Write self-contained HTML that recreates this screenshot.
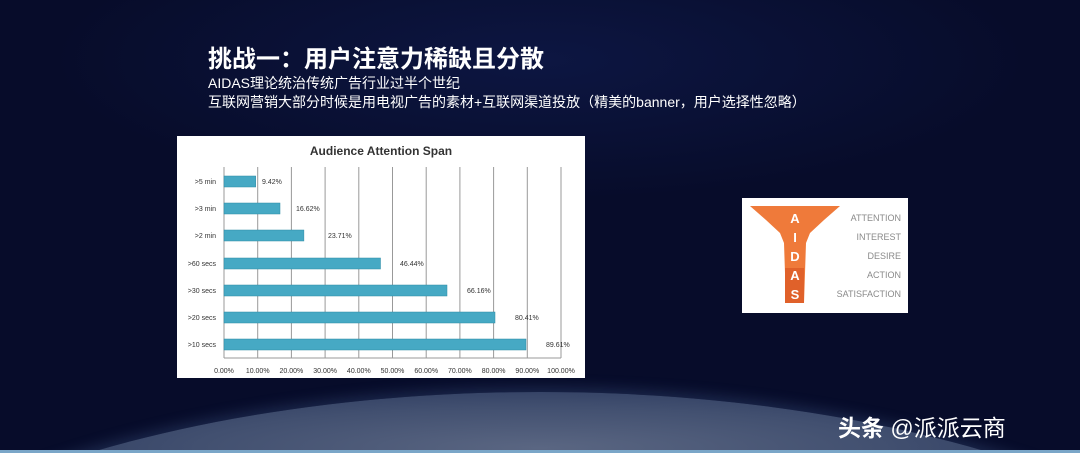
<!DOCTYPE html>
<html style="width:1080px;height:453px;overflow:hidden"><head><meta charset="utf-8"><style>
html,body{margin:0;width:1080px;height:453px;overflow:hidden}
body{background:#070c2a;font-family:"Liberation Sans","Noto Sans CJK SC",sans-serif;position:relative}
.bg{position:absolute;left:0;top:0;width:1080px;height:453px;background:radial-gradient(ellipse 700px 200px at 540px 60px,#0d1642 0%,#070c2a 70%)}
.clip{position:absolute;left:0;top:0;width:1080px;height:453px;overflow:hidden}
.planet{position:absolute;left:-260px;top:392px;width:1600px;height:700px;border-radius:50%;background:radial-gradient(ellipse 760px 90px at 50% 8%,#5a6682 0%,#425070 45%,#26345a 85%);box-shadow:0 -4px 14px rgba(80,110,160,.3)}
.t{position:absolute;color:#fff;white-space:nowrap}
</style></head><body>
<div class="clip"><div class="bg"></div><div class="planet"></div>
<div style="position:absolute;left:0;top:450px;width:1080px;height:3px;background:#7aa6c8"></div></div>
<div class="t" style="left:208px;top:39px;font-size:24px;font-weight:bold">挑战一：用户注意力稀缺且分散</div>
<div class="t" style="left:208px;top:73px;font-size:14px">AIDAS理论统治传统广告行业过半个世纪</div>
<div class="t" style="left:208px;top:92px;font-size:14px">互联网营销大部分时候是用电视广告的素材+互联网渠道投放（精美的banner，用户选择性忽略）</div>
<svg style="position:absolute;left:177px;top:136px" width="408" height="242" viewBox="177 136 408 242">
<rect x="177" y="136" width="408" height="242" fill="#fff"/>
<text x="381" y="155" font-size="12" font-weight="bold" text-anchor="middle" fill="#333" font-family="Liberation Sans">Audience Attention Span</text>
<g stroke="#999" stroke-width="1">
<line x1="224" y1="167" x2="224" y2="358"/><line x1="257.7" y1="167" x2="257.7" y2="358"/><line x1="291.4" y1="167" x2="291.4" y2="358"/><line x1="325.1" y1="167" x2="325.1" y2="358"/><line x1="358.8" y1="167" x2="358.8" y2="358"/><line x1="392.5" y1="167" x2="392.5" y2="358"/><line x1="426.2" y1="167" x2="426.2" y2="358"/><line x1="459.9" y1="167" x2="459.9" y2="358"/><line x1="493.6" y1="167" x2="493.6" y2="358"/><line x1="527.3" y1="167" x2="527.3" y2="358"/><line x1="561" y1="167" x2="561" y2="358"/>
<line x1="224" y1="358" x2="561" y2="358"/>
</g>
<g fill="#46a9c4" stroke="#2d8aa5" stroke-width="0.5">
<rect x="224" y="176" width="31.7" height="11"/>
<rect x="224" y="203" width="56" height="11"/>
<rect x="224" y="230" width="79.9" height="11"/>
<rect x="224" y="258" width="156.5" height="11"/>
<rect x="224" y="285" width="223" height="11"/>
<rect x="224" y="312" width="271" height="11"/>
<rect x="224" y="339" width="302" height="11"/>
</g>
<g font-size="7" fill="#333" font-family="Liberation Sans">
<g text-anchor="end"><text x="216" y="184">&gt;5 min</text><text x="216" y="211">&gt;3 min</text><text x="216" y="238">&gt;2 min</text><text x="216" y="266">&gt;60 secs</text><text x="216" y="293">&gt;30 secs</text><text x="216" y="320">&gt;20 secs</text><text x="216" y="347">&gt;10 secs</text></g>
<text x="262" y="184">9.42%</text><text x="296" y="211">16.62%</text><text x="328" y="238">23.71%</text><text x="400" y="266">46.44%</text><text x="467" y="293">66.16%</text><text x="515" y="320">80.41%</text><text x="546" y="347">89.61%</text>
<g text-anchor="middle"><text x="224" y="373">0.00%</text><text x="257.7" y="373">10.00%</text><text x="291.4" y="373">20.00%</text><text x="325.1" y="373">30.00%</text><text x="358.8" y="373">40.00%</text><text x="392.5" y="373">50.00%</text><text x="426.2" y="373">60.00%</text><text x="459.9" y="373">70.00%</text><text x="493.6" y="373">80.00%</text><text x="527.3" y="373">90.00%</text><text x="561" y="373">100.00%</text></g>
</g>
</svg>
<svg style="position:absolute;left:742px;top:198px" width="166" height="115" viewBox="0 0 166 115">
<rect width="166" height="115" fill="#fff"/>
<path d="M8 8 L98 8 L82 22 L68 35 L64 45 L62 105 L44 105 L42 45 L38 35 L24 22 Z" fill="#ef7a3a"/>
<rect x="43" y="70" width="19" height="35" fill="#e0612a"/>
<g fill="#fff" font-weight="bold" font-size="13" text-anchor="middle" font-family="Liberation Sans"><text x="53" y="25">A</text><text x="53" y="44">I</text><text x="53" y="63">D</text><text x="53" y="82">A</text><text x="53" y="101">S</text></g>
<g fill="#8a8a8a" font-size="9" text-anchor="end" font-family="Liberation Sans"><text x="159" y="23">ATTENTION</text><text x="159" y="42">INTEREST</text><text x="159" y="61">DESIRE</text><text x="159" y="80">ACTION</text><text x="159" y="99">SATISFACTION</text></g>
</svg>
<div class="t" style="left:838px;top:409px;font-size:23px;color:#fff"><b>头条</b> @派派云商</div>
</body></html>
